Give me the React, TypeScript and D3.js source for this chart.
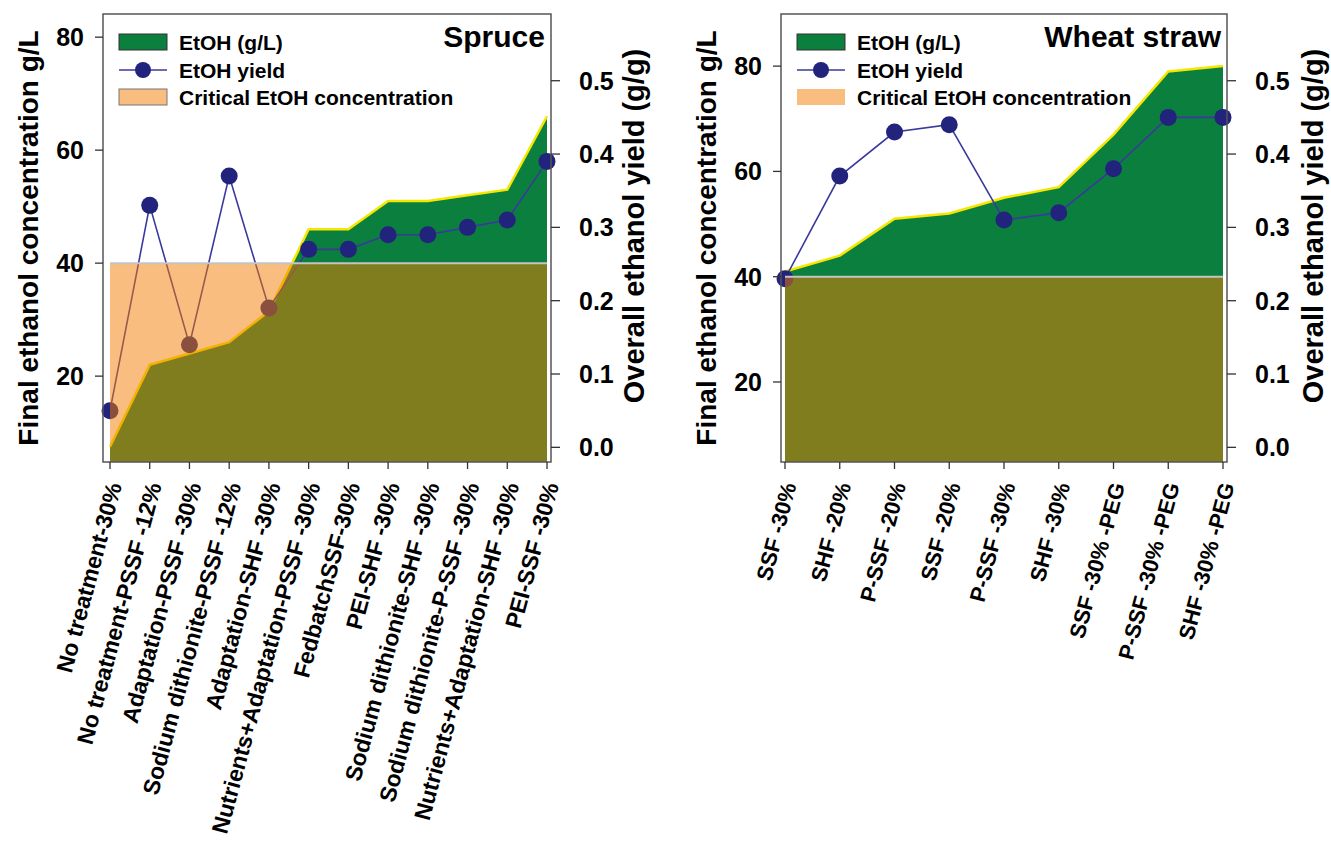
import React from "react";
import * as d3 from "d3";

const spruceCats = [
  "No treatment-30%",
  "No treatment-PSSF -12%",
  "Adaptation-PSSF -30%",
  "Sodium dithionite-PSSF -12%",
  "Adaptation-SHF -30%",
  "Nutrients+Adaptation-PSSF -30%",
  "FedbatchSSF-30%",
  "PEI-SHF -30%",
  "Sodium dithionite-SHF -30%",
  "Sodium dithionite-P-SSF -30%",
  "Nutrients+Adaptation-SHF -30%",
  "PEI-SSF -30%",
];
const spruceEtoh = [7.5, 22, 24, 26, 31.5, 46, 46, 51, 51, 52, 53, 66];
const spruceYield = [0.05, 0.33, 0.14, 0.37, 0.19, 0.27, 0.27, 0.29, 0.29, 0.3, 0.31, 0.39];

const wheatCats = [
  "SSF -30%",
  "SHF -20%",
  "P-SSF -20%",
  "SSF -20%",
  "P-SSF -30%",
  "SHF -30%",
  "SSF -30% -PEG",
  "P-SSF -30% -PEG",
  "SHF -30% -PEG",
];
const wheatEtoh = [41, 44, 51, 52, 55, 57, 67, 79, 80];
const wheatYield = [0.23, 0.37, 0.43, 0.44, 0.31, 0.32, 0.38, 0.45, 0.45];

const criticalEtoh = 40;
const leftTicks = [20, 40, 60, 80];
const rightTicks = [0, 0.1, 0.2, 0.3, 0.4, 0.5];
const legendLabels = ["EtOH (g/L)", "EtOH yield", "Critical EtOH concentration"];

const FONT = "'Liberation Sans', Arial, sans-serif";

function Panel({ svgRef, cats, etoh, yld, title, frame, xr, leftDomain, legendBorder, titleX, labelSize }) {
  React.useEffect(() => {
    const svg = d3.select(svgRef.current).append("g");
    const [fx0, fy0, fx1, fy1] = frame;

    const x = d3.scaleLinear().domain([0, cats.length - 1]).range(xr);
    const yL = d3.scaleLinear().domain(leftDomain).range([fy1, fy0]);
    const yR = d3.scaleLinear().domain([-0.02, 0.591]).range([fy1, fy0]);

    // green EtOH area
    const area = d3
      .area()
      .x((d, i) => x(i))
      .y0(yL(leftDomain[0]))
      .y1((d) => yL(d));
    svg.append("path").datum(etoh).attr("d", area).attr("fill", "#0b7f3d");

    const top = d3.line().x((d, i) => x(i)).y((d) => yL(d));
    svg
      .append("path")
      .datum(etoh)
      .attr("d", top)
      .attr("fill", "none")
      .attr("stroke", "#f7e600")
      .attr("stroke-width", 2.5);

    // yield line + dots
    const yline = d3.line().x((d, i) => x(i)).y((d) => yR(d));
    svg
      .append("path")
      .datum(yld)
      .attr("d", yline)
      .attr("fill", "none")
      .attr("stroke", "#3a3a9c")
      .attr("stroke-width", 1.6);
    svg
      .selectAll("circle.dot")
      .data(yld)
      .enter()
      .append("circle")
      .attr("class", "dot")
      .attr("cx", (d, i) => x(i))
      .attr("cy", (d) => yR(d))
      .attr("r", 8.5)
      .attr("fill", "#22237c");

    // critical concentration overlay (semi transparent, over everything)
    svg
      .append("rect")
      .attr("x", x(0))
      .attr("width", x(cats.length - 1) - x(0))
      .attr("y", yL(criticalEtoh))
      .attr("height", yL(leftDomain[0]) - yL(criticalEtoh))
      .attr("fill", "rgb(244,124,0)")
      .attr("opacity", 0.5);
    svg
      .append("line")
      .attr("x1", x(0))
      .attr("x2", x(cats.length - 1))
      .attr("y1", yL(criticalEtoh))
      .attr("y2", yL(criticalEtoh))
      .attr("stroke", "#c4c4c4")
      .attr("stroke-width", 2);

    // frame
    svg
      .append("rect")
      .attr("x", fx0)
      .attr("y", fy0)
      .attr("width", fx1 - fx0)
      .attr("height", fy1 - fy0)
      .attr("fill", "none")
      .attr("stroke", "#555")
      .attr("stroke-width", 1.5);

    // left axis
    const gl = svg.append("g").attr("transform", `translate(${fx0},0)`);
    gl.selectAll("line")
      .data(leftTicks)
      .enter()
      .append("line")
      .attr("x1", -8)
      .attr("x2", 0)
      .attr("y1", (d) => yL(d))
      .attr("y2", (d) => yL(d))
      .attr("stroke", "#333")
      .attr("stroke-width", 1.3);
    gl.selectAll("text")
      .data(leftTicks)
      .enter()
      .append("text")
      .attr("x", -19)
      .attr("y", (d) => yL(d))
      .attr("dy", "0.36em")
      .attr("text-anchor", "end")
      .style("font", `bold 25px ${FONT}`)
      .text((d) => d);

    // right axis
    const gr = svg.append("g").attr("transform", `translate(${fx1},0)`);
    gr.selectAll("line")
      .data(rightTicks)
      .enter()
      .append("line")
      .attr("x1", 0)
      .attr("x2", 9)
      .attr("y1", (d) => yR(d))
      .attr("y2", (d) => yR(d))
      .attr("stroke", "#333")
      .attr("stroke-width", 1.3);
    gr.selectAll("text")
      .data(rightTicks)
      .enter()
      .append("text")
      .attr("x", 28)
      .attr("y", (d) => yR(d))
      .attr("dy", "0.36em")
      .style("font", `bold 25px ${FONT}`)
      .text((d) => d3.format(".1f")(d));

    // bottom axis ticks + rotated labels
    const gb = svg.append("g").attr("transform", `translate(0,${fy1})`);
    gb.selectAll("line")
      .data(cats)
      .enter()
      .append("line")
      .attr("x1", (d, i) => x(i))
      .attr("x2", (d, i) => x(i))
      .attr("y1", 0)
      .attr("y2", 7)
      .attr("stroke", "#333")
      .attr("stroke-width", 1.3);
    gb.selectAll("text")
      .data(cats)
      .enter()
      .append("text")
      .attr("transform", (d, i) => `translate(${x(i) + 4},21) rotate(-75)`)
      .attr("dy", "0.36em")
      .attr("text-anchor", "end")
      .style("font", `bold ${labelSize}px ${FONT}`)
      .text((d) => d);

    // axis titles
    svg
      .append("text")
      .attr("transform", `translate(${titleX[0]},238) rotate(-90)`)
      .attr("text-anchor", "middle")
      .style("font", `bold 28px ${FONT}`)
      .text("Final ethanol concentration g/L");
    svg
      .append("text")
      .attr("transform", `translate(${titleX[1]},226) rotate(-90)`)
      .attr("text-anchor", "middle")
      .style("font", `bold 29px ${FONT}`)
      .text("Overall ethanol yield (g/g)");

    // panel title
    svg
      .append("text")
      .attr("x", fx1 - 6)
      .attr("y", fy0 + 33)
      .attr("text-anchor", "end")
      .style("font", `bold 30px ${FONT}`)
      .text(title);

    // legend
    const lx = fx0 + 16;
    const rows = [fy0 + 28, fy0 + 56, fy0 + 83];
    const lg = svg.append("g");
    lg.append("rect")
      .attr("x", lx)
      .attr("y", rows[0] - 8)
      .attr("width", 48)
      .attr("height", 16)
      .attr("fill", "#0b7f3d")
      .attr("stroke", "#333")
      .attr("stroke-width", 1);
    lg.append("line")
      .attr("x1", lx)
      .attr("x2", lx + 48)
      .attr("y1", rows[1])
      .attr("y2", rows[1])
      .attr("stroke", "#3a3a9c")
      .attr("stroke-width", 1.6);
    lg.append("circle").attr("cx", lx + 24).attr("cy", rows[1]).attr("r", 8).attr("fill", "#22237c");
    lg.append("rect")
      .attr("x", lx)
      .attr("y", rows[2] - 8)
      .attr("width", 48)
      .attr("height", 16)
      .attr("fill", "#f9bd7f")
      .attr("stroke", legendBorder ? "#777" : "none")
      .attr("stroke-width", 1);
    lg.selectAll("text")
      .data(legendLabels)
      .enter()
      .append("text")
      .attr("x", lx + 60)
      .attr("y", (d, i) => rows[i])
      .attr("dy", "0.36em")
      .style("font", `bold 21px ${FONT}`)
      .text((d) => d);

    return () => svg.remove();
  }, []);
  return null;
}

export default function App() {
  const ref = React.useRef(null);
  const [ready, setReady] = React.useState(false);
  React.useEffect(() => setReady(true), []);
  return (
    <div style={{ position: "absolute", left: 0, top: 0 }}>
      <svg ref={ref} width={1331} height={849} style={{ display: "block", background: "#fff" }}>
        {ready && (
          <>
            <Panel
              svgRef={ref}
              cats={spruceCats}
              etoh={spruceEtoh}
              yld={spruceYield}
              title="Spruce"
              frame={[103, 14, 551, 462]}
              xr={[110, 547]}
              leftDomain={[4.8, 84.1]}
              legendBorder={true}
              titleX={[38, 644]}
              labelSize={23}
            />
            <Panel
              svgRef={ref}
              cats={wheatCats}
              etoh={wheatEtoh}
              yld={wheatYield}
              title="Wheat straw"
              frame={[781, 14, 1227, 462]}
              xr={[785, 1223]}
              leftDomain={[4.8, 89.9]}
              legendBorder={false}
              titleX={[716, 1323]}
              labelSize={22}
            />
          </>
        )}
      </svg>
    </div>
  );
}
